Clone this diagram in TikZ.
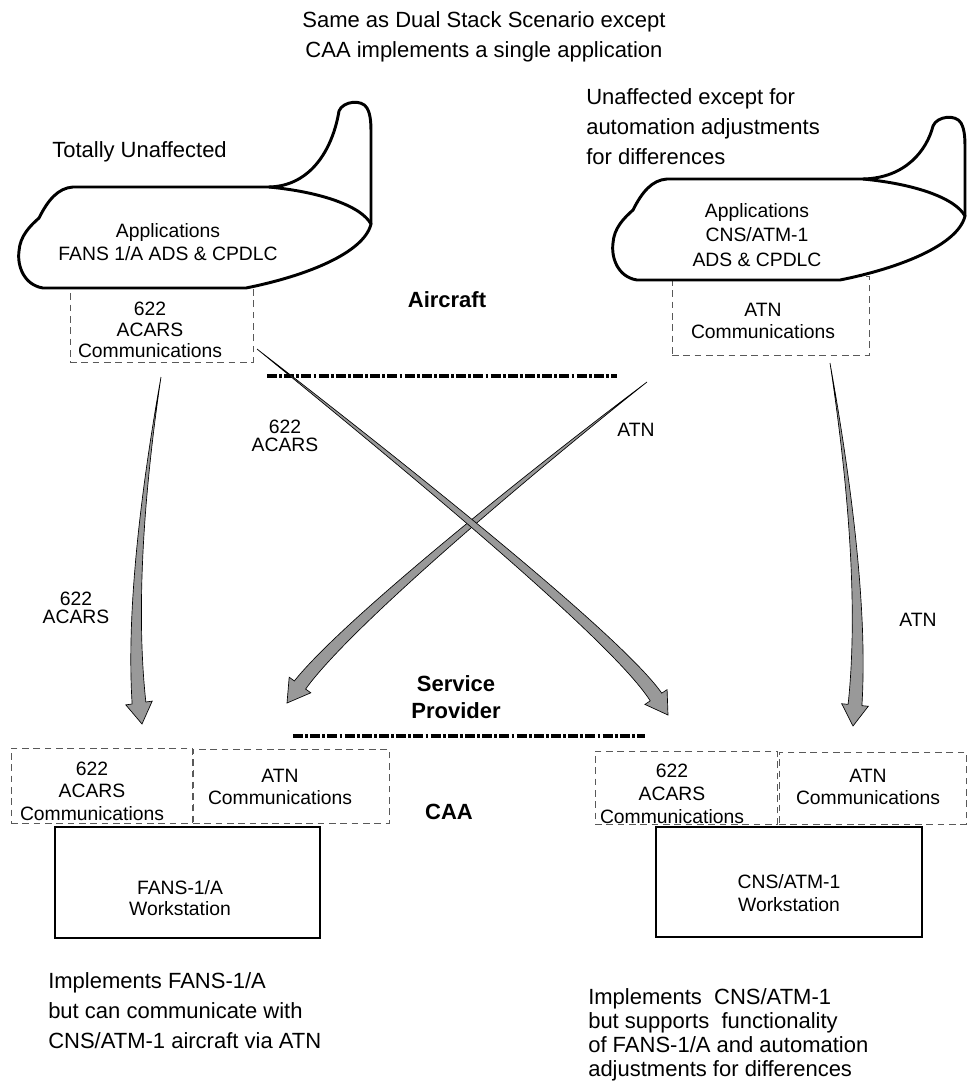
\documentclass[tikz,border=0pt]{standalone}
\usepackage{fontspec}
\setmainfont{Liberation Sans}
\usetikzlibrary{calc,fit}

\tikzset{
  plane/.style={line width=2.2pt, line join=round, line cap=round},
  commbox/.style={draw=black!65, dash pattern=on 5pt off 3.5pt, line width=0.7pt, inner sep=0pt},
  wsbox/.style={draw, line width=1.8pt, inner sep=0pt},
  boxtext/.style={font=\fontsize{14.5}{17}\selectfont, align=center, inner sep=0pt},
  note/.style={font=\fontsize{16.5}{22.5}\selectfont, align=left, inner sep=0pt},
  tag/.style={font=\bfseries\fontsize{16.5}{20}\selectfont, align=center, inner sep=0pt},
  divider/.style={line width=2.5pt, dash pattern=on 7.5pt off 1.6pt on 2.2pt off 1.6pt},
  flow/.style={fill=black!40, draw=black, line width=0.5pt, line join=miter},
  % aircraft outline; the argument is the height of the tail fin
  pics/aircraft/.style={code={
    % fuselage
    \path[plane, draw, fill=white] (0,0) -- (196,0)
      .. controls (248,5) and (288,19) .. (298,37)
      .. controls (291,66) and (233,89) .. (173,101) -- (-30,101)
      .. controls (-49,98) and (-56,79) .. (-54,64)
      .. controls (-53,49) and (-43,39) .. (-34,31)
      .. controls (-25,13) and (-15,1) .. (0,0) -- cycle;
    % tail fin
    \draw[plane] (196,0) .. controls (239,-1) and (260,{-0.45*#1}) .. (266,{-#1+12})
      .. controls (270,{-#1+2}) and (289,-#1) .. (294,{-#1+9})
      .. controls (298,{-#1+16}) and (298,{-#1+26}) .. (298,{-#1+36}) -- (298,37);
  }},
}

% tapered flow arrow: start, control 1, control 2, head base, tip
\newcommand{\flowarrow}[5]{%
  \path[flow] (#1)
    .. controls ($(#2)!1.5pt!90:(#3)$) and ($(#3)!3.8pt!90:(#4)$) .. ($(#4)!5.2pt!90:(#5)$)
    -- ($(#4)!10pt!90:(#5)$) -- (#5) -- ($(#4)!10pt!-90:(#5)$)
    -- ($(#4)!5.2pt!-90:(#5)$)
    .. controls ($(#3)!3.8pt!-90:(#4)$) and ($(#2)!1.5pt!-90:(#3)$) .. (#1) -- cycle;}

\begin{document}
\begin{tikzpicture}[x=0.75pt,y=-0.75pt]
\useasboundingbox (0,0) rectangle (968,1082);

% headings and notes
\node[note, align=center, font=\fontsize{16.5}{22.5}\selectfont] (title) at (484,37)
  {Same as Dual Stack Scenario except\\CAA implements a single application};
\node[note, anchor=west] (leftnote) at (52,152) {Totally Unaffected};
\node[note, anchor=west] (rightnote) at (586,127)
  {Unaffected except for\\automation adjustments\\for differences};

% aircraft communication stacks
\node[commbox, fit={(70,284) (253,362)}] (acarsA) {};
\node[commbox, fit={(672,276) (869,355)}] (atnA) {};
\node[boxtext, font=\fontsize{14.5}{16}\selectfont] (acarsAt) at (150,330) {622\\ACARS\\Communications};
\node[boxtext] (atnAt) at (763,321) {ATN\\Communications};

% aircraft
\pic at (73,187) {aircraft=88};
\pic at (667,179) {aircraft=65};
\node[boxtext] (appsA) at (168,242) {Applications\\FANS 1/A ADS \& CPDLC};
\node[boxtext, font=\fontsize{14.5}{18.5}\selectfont] (appsB) at (757,235) {Applications\\CNS/ATM-1\\ADS \& CPDLC};

% domain labels and boundaries
\node[tag] (aircraft) at (447,300) {Aircraft};
\node[tag] (provider) at (456,697) {Service\\Provider};
\node[tag] (caa) at (449,812) {CAA};
\coordinate (divAl) at (267,376); \coordinate (divAr) at (617,376);
\coordinate (divBl) at (293,736); \coordinate (divBr) at (645,736);
\draw[divider] (divAl) -- (divAr);
\draw[divider] (divBl) -- (divBr);

% ground stacks
\node[commbox, fit={(11,748) (192,823)}] (acarsB) {};
\node[commbox, fit={(193,749) (389,823)}] (atnB) {};
\node[commbox, fit={(595,751) (777,824)}] (acarsC) {};
\node[commbox, fit={(779,752) (966,824)}] (atnC) {};
\node[boxtext] (acarsBt) at (92,791) {622\\ACARS\\Communications};
\node[boxtext] (atnBt) at (280,787) {ATN\\Communications};
\node[boxtext] (acarsCt) at (672,794) {622\\ACARS\\Communications};
\node[boxtext] (atnCt) at (868,787) {ATN\\Communications};

% workstations
\node[wsbox, fit={(55,827) (320,938)}] (wsA) {};
\node[wsbox, fit={(656,827) (922,937)}] (wsB) {};
\node[boxtext, font=\fontsize{14.5}{15.5}\selectfont] (wsAt) at (180,898) {FANS-1/A\\Workstation};
\node[boxtext] (wsBt) at (789,893) {CNS/ATM-1\\Workstation};

% link labels
\node[boxtext, font=\fontsize{14.5}{14}\selectfont] (lblA) at (76,608) {622\\ACARS};
\node[boxtext, font=\fontsize{14.5}{14}\selectfont] (lblB) at (285,436) {622\\ACARS};
\node[boxtext] (lblC) at (636,430) {ATN};
\node[boxtext] (lblD) at (918,620) {ATN};

% data links
\coordinate (aS) at (161,377); \coordinate (a1) at (139,512); \coordinate (a2) at (132,622);
\coordinate (aB) at (139,703); \coordinate (aT) at (142,724);
\coordinate (dS) at (830,363); \coordinate (d1) at (854,508); \coordinate (d2) at (862,623);
\coordinate (dB) at (855,705); \coordinate (dT) at (853,726);
\coordinate (cS) at (647,382); \coordinate (c1) at (528,474); \coordinate (c2) at (346,624);
\coordinate (cB) at (300,685); \coordinate (cT) at (287,703);
\coordinate (bS) at (257,349); \coordinate (b1) at (374,442); \coordinate (b2) at (614,634);
\coordinate (bB) at (656,697); \coordinate (bT) at (668,715);
\flowarrow{aS}{a1}{a2}{aB}{aT}
\flowarrow{dS}{d1}{d2}{dB}{dT}
\flowarrow{cS}{c1}{c2}{cB}{cT}
\flowarrow{bS}{b1}{b2}{bB}{bT}

% captions
\node[note, anchor=west] (noteA) at (48,1011)
  {Implements FANS-1/A\\but can communicate with\\CNS/ATM-1 aircraft via ATN};
\node[note, anchor=west, font=\fontsize{16.5}{18}\selectfont] (noteB) at (588,1035)
  {Implements\ \ CNS/ATM-1\\but supports\ \ functionality\\of FANS-1/A and automation\\adjustments for differences};
\end{tikzpicture}
\end{document}
